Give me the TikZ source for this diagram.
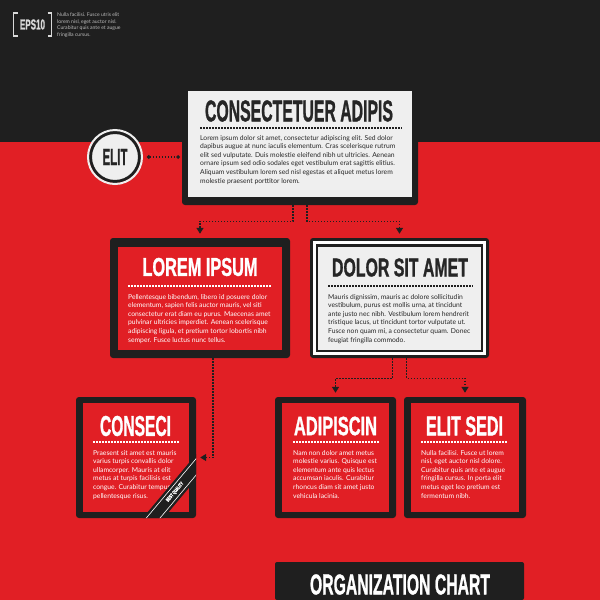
\documentclass[tikz,border=0pt]{standalone}
\usepackage{fontspec}
\usepackage{graphicx}
\setmainfont{Lato}
\newfontfamily\headfont[BoldFeatures={FakeBold=1.3}]{Liberation Sans}
\usetikzlibrary{arrows.meta,calc}
\definecolor{bgred}{HTML}{E11F25}
\definecolor{dk}{HTML}{1F1F1F}
\definecolor{lt}{HTML}{EFEFEF}
\definecolor{txtdk}{HTML}{262626}
\definecolor{smallgray}{HTML}{BBBBBB}
\newcommand\hdtxt[3]{\resizebox{#1pt}{#2pt}{\headfont\bfseries #3}}
\begin{document}
\begin{tikzpicture}[x=1pt,y=-1pt,
  frame/.style={rectangle, fill=dk, rounded corners=3pt, inner sep=0pt},
  redin/.style={rectangle, fill=bgred, inner sep=0pt},
  ltin/.style={rectangle, fill=lt, inner sep=0pt},
  headd/.style={inner sep=0pt, text=txtdk},
  headw/.style={inner sep=0pt, text=white},
  body/.style={anchor=north west, inner sep=0pt, align=left, font=\fontsize{6.75}{8.6}\selectfont},
  sep/.style={line width=1.5pt, dash pattern=on 1.5pt off 1.5pt},
  conn/.style={dk, line width=1.3pt, dash pattern=on 1.3pt off 1.7pt},
  tip/.style={-{Triangle[width=7pt,length=6pt]}},
]
\useasboundingbox (0,0) rectangle (600,600);
\clip (0,0) rectangle (600,600);
% background
\fill[bgred] (0,0) rectangle (600,600);
\fill[dk] (0,0) rectangle (600,142);

% top-left label
\draw[white!85!black, line width=1.8pt] (17.5,13) -- (13.5,13) -- (13.5,36) -- (17.5,36);
\draw[white!85!black, line width=1.8pt] (47.5,13) -- (51.5,13) -- (51.5,36) -- (47.5,36);
\node[inner sep=0pt, text=white!85!black] (eps) at (32.5,24.5) {\hdtxt{25}{10}{EPS10}};
\node[anchor=north west, inner sep=0pt, align=left, text=smallgray, font=\fontsize{5.1}{6.6}\selectfont] (epstext) at (57,12.5)
 {Nulla facilisi. Fusce utris elit\\lorem nisl, eget auctor nisl.\\Curabitur quis ante et augue\\fringilla cursus.};

% top box
\node[frame, minimum width=236, minimum height=119] (top) at (300,145.5) {};
\node[ltin, minimum width=224, minimum height=106] (topin) at (300,144) {};
\node[headd] (toptitle) at (299,111) {\hdtxt{188}{21}{CONSECTETUER ADIPIS}};
\draw[sep, dk] (200,128) -- (402,128);
\node[body, text=txtdk] (toptext) at (200,135)
 {Lorem ipsum dolor sit amet, consectetur adipiscing elit. Sed dolor\\
  dapibus augue at nunc iaculis elementum. Cras scelerisque rutrum\\
  elit sed vulputate. Duis molestie eleifend nibh ut ultricies. Aenean\\
  ornare ipsum sed odio sodales eget vestibulum erat sagittis elitius.\\
  Aliquam vestibulum lorem sed nisl egestas et aliquet metus lorem\\
  molestie praesent porttitor lorem.};

% ELIT circle
\node[circle, fill=lt, draw=dk, line width=3pt, minimum size=49pt, inner sep=0pt, text=txtdk] (elit) at (115,157) {\hdtxt{25}{16}{ELIT}};
\draw[lt, line width=2pt] (elit.center) circle (27);

% middle left box
\node[frame, minimum width=180, minimum height=120] (lorem) at (200,298) {};
\node[redin, minimum width=164, minimum height=103] (loremin) at (200,298.5) {};
\node[headw] (loremtitle) at (200,267) {\hdtxt{115}{18}{LOREM IPSUM}};
\draw[sep, white] (128,286) -- (272,286);
\node[body, text=white] (loremtext) at (128,294)
 {Pellentesque bibendum, libero id posuere dolor\\
  elementum, sapien felis auctor mauris, vel siti\\
  consectetur erat diam eu purus. Maecenas amet\\
  pulvinar ultricies imperdiet. Aenean scelerisque\\
  adipiscing ligula, et pretium tortor lobortis nibh\\
  semper. Fusce luctus nunc tellus.};

% middle right box
\node[frame, minimum width=179, minimum height=120] (dolor) at (399.5,298) {};
\node[rectangle, fill=white, inner sep=0pt, minimum width=173, minimum height=114] (dolorw) at (399.5,298) {};
\node[rectangle, fill=dk, inner sep=0pt, minimum width=167, minimum height=108] (dolord) at (399.5,298) {};
\node[ltin, minimum width=163, minimum height=103] (dolorin) at (399.5,298) {};
\node[headd] (dolortitle) at (400,267.5) {\hdtxt{136}{18}{DOLOR SIT AMET}};
\draw[sep, dk] (328,286) -- (473,286);
\node[body, text=txtdk] (dolortext) at (328,294)
 {Mauris dignissim, mauris ac dolore sollicitudin\\
  vestibulum, purus est mollis urna, at tincidunt\\
  ante justo nec nibh. Vestibulum lorem hendrerit\\
  tristique lacus, ut tincidunt tortor vulputate ut.\\
  Fusce non quam mi, a consectetur quam. Donec\\
  feugiat fringilla commodo.};

% bottom row
\node[frame, minimum width=120, minimum height=121] (conseci) at (136,457.5) {};
\node[redin, minimum width=106, minimum height=109] (consecin) at (136,457.5) {};
\node[headw] (consecititle) at (135.5,426) {\hdtxt{71}{20}{CONSECI}};
\draw[sep, white] (93,442) -- (180,442);
\node[body, text=white] (consecitext) at (93,450)
 {Praesent sit amet est mauris\\
  varius turpis convallis dolor\\
  ullamcorper. Mauris at elit\\
  metus at turpis facilisis est\\
  congue. Curabitur tempus\\
  pellentesque risus.};

\node[frame, minimum width=121, minimum height=121] (adip) at (335.5,457.5) {};
\node[redin, minimum width=107, minimum height=109] (adipin) at (335.5,457.5) {};
\node[headw] (adiptitle) at (335.5,426) {\hdtxt{83}{18.5}{ADIPISCIN}};
\draw[sep, white] (293,442) -- (380,442);
\node[body, text=white] (adiptext) at (293,450)
 {Nam non dolor amet metus\\
  molestie varius. Quisque est\\
  elementum ante quis lectus\\
  accumsan iaculis. Curabitur\\
  rhoncus diam sit amet justo\\
  vehicula lacinia.};

\node[frame, minimum width=122, minimum height=121] (sedi) at (465,457.5) {};
\node[redin, minimum width=108, minimum height=109] (sediin) at (465,457.5) {};
\node[headw] (sedititle) at (464.5,426) {\hdtxt{77}{19}{ELIT SEDI}};
\draw[sep, white] (421,442) -- (508,442);
\node[body, text=white] (seditext) at (421,450)
 {Nulla facilisi. Fusce ut lorem\\
  nisl, eget auctor nisl dolore.\\
  Curabitur quis ante et augue\\
  fringilla cursus. In porta elit\\
  metus eget leo pretium est\\
  fermentum nibh.};

% ribbon
\begin{scope}
\clip[rounded corners=3pt] (76,397) rectangle (196,518);
\node[fill=dk, rotate=50, minimum width=110, minimum height=16, inner sep=0pt] (ribbon) at (175,492) {};
\node[draw=white, line width=0.6pt, rotate=50, minimum width=110, minimum height=10.5, inner sep=0pt, text=white] (ribbontext) at (175,492) {\resizebox{24pt}{3.6pt}{\headfont\bfseries BEST QUALITY}};
\end{scope}

% connectors
\draw[conn, {Circle[length=3.5pt]}-{Circle[length=3.5pt]}, shorten <=6pt, shorten >=2pt] (elit.east) -- (elit.east -| top.west);
\draw[conn, tip, shorten >=4pt] ($(top.south)+(-7,0)$) -- ++(0,16) -| (lorem.north);
\draw[conn, tip, shorten >=4pt] ($(top.south)+(7,0)$) -- ++(0,16) -| (dolor.north);
\draw[conn, tip, shorten >=4pt] ($(dolor.south)+(-7,0)$) -- ++(0,20) -| (adip.north);
\draw[conn, tip, shorten >=4pt] ($(dolor.south)+(7,0)$) -- ++(0,20) -| (sedi.north);
\draw[conn, tip, shorten >=4pt] ($(lorem.south)+(13,0)$) |- (conseci.east);

% bottom title bar
\node[fill=dk, rounded corners=2pt, minimum width=249, minimum height=38, inner sep=0pt] (chart) at (399.5,581) {};
\node[headw] (charttitle) at (400,584.5) {\hdtxt{180}{20}{ORGANIZATION CHART}};
\end{tikzpicture}
\end{document}
